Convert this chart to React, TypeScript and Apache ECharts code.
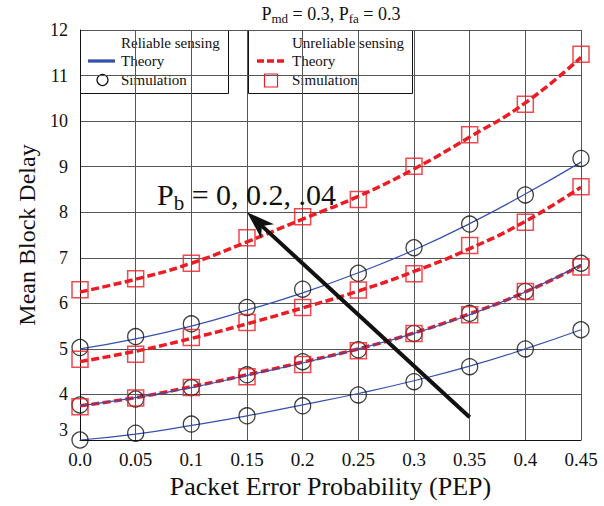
import React, { useEffect, useRef } from "react";
import * as echarts from "echarts";

// ---- data ----
const pepValues = [0, 0.05, 0.1, 0.15, 0.2, 0.25, 0.3, 0.35, 0.4, 0.45];

// Reliable sensing (blue theory, circle simulation)
const relTheoryLow = [3.0, 3.13, 3.32, 3.53, 3.77, 4.02, 4.3, 4.62, 5.0, 5.42];
const relSimLow = [3.0, 3.15, 3.35, 3.53, 3.75, 3.99, 4.28, 4.61, 5.0, 5.42];
const relTheoryMid = [3.75, 3.93, 4.15, 4.42, 4.69, 5.0, 5.34, 5.75, 6.25, 6.85];
const relSimMid = [3.77, 3.9, 4.15, 4.43, 4.72, 4.98, 5.34, 5.78, 6.26, 6.88];
const relTheoryHigh = [5.0, 5.22, 5.5, 5.85, 6.23, 6.67, 7.17, 7.75, 8.4, 9.1];
const relSimHigh = [5.03, 5.27, 5.55, 5.91, 6.31, 6.66, 7.22, 7.74, 8.38, 9.18];

// Unreliable sensing (red dashed theory, square simulation)
const unrTheoryLow = [3.75, 3.93, 4.17, 4.43, 4.71, 5.0, 5.35, 5.77, 6.25, 6.83];
const unrSimLow = [3.73, 3.92, 4.15, 4.39, 4.66, 4.96, 5.34, 5.75, 6.26, 6.8];
const unrTheoryMid = [4.72, 4.95, 5.23, 5.55, 5.9, 6.27, 6.7, 7.2, 7.8, 8.55];
const unrSimMid = [4.77, 4.88, 5.25, 5.58, 5.91, 6.29, 6.65, 7.27, 7.78, 8.56];
const unrTheoryHigh = [6.25, 6.53, 6.88, 7.35, 7.85, 8.35, 8.95, 9.65, 10.4, 11.4];
const unrSimHigh = [6.3, 6.54, 6.88, 7.44, 7.9, 8.28, 9.01, 9.7, 10.37, 11.47];

// annotation arrow: [fromX, fromY, toX, toY]
const arrowData = [[0.35, 3.5, 0.15, 8.0]];

const BLUE = "#3550ad";
const RED = "#ec1c24";
const FONT = "Liberation Serif";

const pairs = (ys: number[]) => pepValues.map((x, i) => [x, ys[i]]);

export default function App() {
  const ref = useRef<HTMLDivElement>(null);
  useEffect(() => {
    document.body.style.margin = "0";
    const chart = echarts.init(ref.current!, null, { renderer: "svg" });

    const theory = (ys: number[], reliable: boolean) => ({
      type: "line",
      data: pairs(ys),
      smooth: true,
      showSymbol: false,
      symbol: "none",
      silent: true,
      z: reliable ? 4 : 3,
      lineStyle: reliable
        ? { color: BLUE, width: 1.2 }
        : { color: RED, width: 3.5, type: [8, 3.5] },
    });
    const sim = (ys: number[], reliable: boolean) => ({
      type: "scatter",
      data: pairs(ys),
      symbol: reliable ? "circle" : "rect",
      symbolSize: 16,
      silent: true,
      z: 5,
      itemStyle: {
        color: "rgba(0,0,0,0)",
        borderColor: reliable ? "#111" : RED,
        borderWidth: reliable ? 1.3 : 1.5,
      },
    });

    const lg = (x: number, y: number, text: string) => ({
      type: "text",
      x,
      y,
      style: { text, fontFamily: FONT, fontSize: 15, fill: "#111", verticalAlign: "middle" },
    });

    const arrowSeries = {
      type: "custom",
      silent: true,
      z: 8,
      clip: false,
      data: arrowData,
      encode: { x: [0, 2], y: [1, 3] },
      renderItem: (params: any, api: any) => {
        const p1 = api.coord([api.value(0), api.value(1)]);
        const p2 = api.coord([api.value(2), api.value(3)]);
        const dx = p2[0] - p1[0];
        const dy = p2[1] - p1[1];
        const len = Math.sqrt(dx * dx + dy * dy);
        const ux = dx / len;
        const uy = dy / len;
        const px = -uy;
        const py = ux;
        const L = 28;
        const W = 9.5;
        const bx = p2[0] - ux * L;
        const by = p2[1] - uy * L;
        const nx = p2[0] - ux * L * 0.72;
        const ny = p2[1] - uy * L * 0.72;
        return {
          type: "group",
          children: [
            {
              type: "line",
              shape: { x1: p1[0], y1: p1[1], x2: nx, y2: ny },
              style: { stroke: "#111", lineWidth: 4 },
            },
            {
              type: "polygon",
              shape: {
                points: [
                  [p2[0], p2[1]],
                  [bx + px * W, by + py * W],
                  [nx, ny],
                  [bx - px * W, by - py * W],
                ],
              },
              style: { fill: "#111" },
            },
          ],
        };
      },
    };

    chart.setOption({
      animation: false,
      grid: { left: 80, right: 23, top: 30, bottom: 66, containLabel: false },
      xAxis: {
        type: "value",
        min: 0,
        max: 0.45,
        interval: 0.05,
        name: "Packet Error Probability (PEP)",
        nameLocation: "middle",
        nameGap: 32,
        nameTextStyle: { fontFamily: FONT, fontSize: 26, color: "#111" },
        axisLine: { lineStyle: { color: "#111", width: 1 } },
        axisTick: { show: false },
        axisLabel: {
          fontFamily: FONT,
          fontSize: 19,
          color: "#111",
          margin: 10,
          formatter: (v: number) => (v === 0 ? "0.0" : String(Number(v.toFixed(2)))),
        },
        splitLine: { show: true, lineStyle: { color: "#555", width: 1 } },
      },
      yAxis: {
        type: "value",
        min: 3,
        max: 12,
        interval: 1,
        name: "Mean Block Delay",
        nameLocation: "middle",
        nameGap: 39,
        nameTextStyle: { fontFamily: FONT, fontSize: 24, color: "#111" },
        axisLine: { show: true, lineStyle: { color: "#111", width: 1 } },
        axisTick: { show: false },
        axisLabel: {
          fontFamily: FONT,
          fontSize: 18,
          color: "#111",
          margin: 12,
          formatter: (v: number) => (v === 3 ? "{up|3}" : String(v)),
          rich: { up: { fontFamily: FONT, fontSize: 18, color: "#111", padding: [0, 0, 20, 0] } },
        },
        splitLine: { show: true, lineStyle: { color: "#555", width: 1 } },
      },
      series: [
        theory(unrTheoryLow, false),
        theory(unrTheoryMid, false),
        theory(unrTheoryHigh, false),
        theory(relTheoryLow, true),
        theory(relTheoryMid, true),
        theory(relTheoryHigh, true),
        sim(relSimLow, true),
        sim(relSimMid, true),
        sim(relSimHigh, true),
        sim(unrSimLow, false),
        sim(unrSimMid, false),
        sim(unrSimHigh, false),
        arrowSeries,
      ],
      graphic: [
        {
          type: "text",
          x: 331,
          y: 2,
          z: 10,
          style: {
            text: "{a|P}{s|md}{a| = 0.3, P}{s|fa}{a| = 0.3}",
            align: "center",
            rich: {
              a: { fontFamily: FONT, fontSize: 18, fill: "#111" },
              s: { fontFamily: FONT, fontSize: 13, fill: "#111", padding: [10, 0, 0, 0] },
            },
          },
        },
        {
          type: "text",
          x: 157,
          y: 176,
          z: 10,
          style: {
            text: "{a|P}{s|b}{a| = 0, 0.2, .04}",
            rich: {
              a: { fontFamily: FONT, fontSize: 30, fill: "#111" },
              s: { fontFamily: FONT, fontSize: 21, fill: "#111", padding: [16, 0, 0, 0] },
            },
          },
        },
        // Legend box 1
        {
          type: "group",
          z: 20,
          children: [
            { type: "rect", shape: { x: 80.5, y: 30.5, width: 148, height: 63 }, style: { fill: "#fff", stroke: "#111", lineWidth: 1 } },
            lg(121, 43, "Reliable sensing"),
            { type: "line", shape: { x1: 88, y1: 61, x2: 115, y2: 61 }, style: { stroke: BLUE, lineWidth: 3.3 } },
            lg(121, 61, "Theory"),
            { type: "circle", shape: { cx: 102.5, cy: 80, r: 5.5 }, style: { fill: "none", stroke: "#111", lineWidth: 1.2 } },
            lg(121, 80, "Simulation"),
          ],
        },
        // Legend box 2
        {
          type: "group",
          z: 20,
          children: [
            { type: "rect", shape: { x: 248.5, y: 30.5, width: 164, height: 63 }, style: { fill: "#fff", stroke: "#111", lineWidth: 1 } },
            lg(292, 43, "Unreliable sensing"),
            { type: "line", shape: { x1: 257, y1: 61, x2: 285, y2: 61 }, style: { stroke: RED, lineWidth: 3.3, lineDash: [7, 3] } },
            lg(292, 61, "Theory"),
            { type: "rect", shape: { x: 264.5, y: 74, width: 13, height: 13 }, style: { fill: "none", stroke: RED, lineWidth: 1.2 } },
            lg(292, 80, "Simulation"),
          ],
        },
      ],
    });
    return () => chart.dispose();
  }, []);
  return <div ref={ref} style={{ width: 604, height: 506 }} />;
}
